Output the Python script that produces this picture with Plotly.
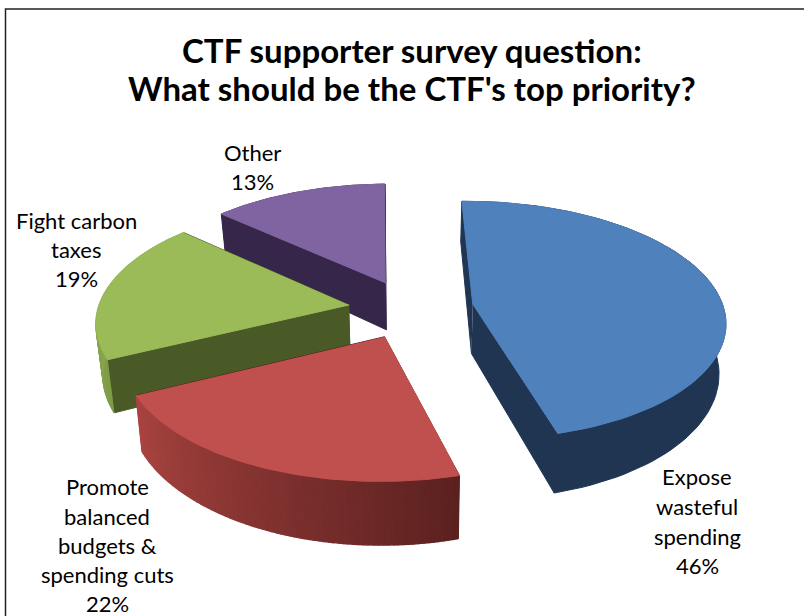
import math
import plotly.graph_objects as go

categories = ["Expose wasteful spending", "Promote balanced budgets & spending cuts", "Fight carbon taxes", "Other"]
values = [46, 22, 19, 13]
label_lines = [["Expose", "wasteful", "spending"],
               ["Promote", "balanced", "budgets &", "spending cuts"],
               ["Fight carbon", "taxes"],
               ["Other"]]
title_lines = ["CTF supporter survey question:", "What should be the CTF's top priority?"]

# projection of the tilted disc
CX, CY, K, A, P, EXPL, DEPTH, SHRINK = 411, 309, 251, 118, 0.13, 0.25, 49, 0.022
FIRST_ANGLE = math.radians(-1)
tops = ["#4F81BD", "#C0504D", "#9BBB59", "#8064A2"]
cut_faces = ["#1F3552", "#5A211F", "#4A5A27", "#35264A"]
wall_from = ["#1F3552", "#5A211F", "#7F9B48", "#35264A"]   # colour at slice start angle
wall_to = ["#1F3552", "#AB4441", "#9BBB59", "#35264A"]     # colour at slice end angle
label_pos = [(697, [476, 506, 536, 565]), (107, [486, 516, 545, 574, 603]),
             (76, [220, 249, 278]), (252, [152, 181])]


def project(x, y, z=0.0):
    d = 1 + P * y
    return CX + K * x / d * (1 - SHRINK * z), CY - A * y / d + z * DEPTH / d ** 1.5


def mix(c1, c2, f):
    a = [int(c1[i:i + 2], 16) for i in (1, 3, 5)]
    b = [int(c2[i:i + 2], 16) for i in (1, 3, 5)]
    return "rgb(%d,%d,%d)" % tuple(round(p + (q - p) * f) for p, q in zip(a, b))


def poly(fig, pts, color, width=1):
    fig.add_trace(go.Scatter(x=[p[0] for p in pts], y=[p[1] for p in pts], mode="lines", fill="toself",
                             fillcolor=color, line=dict(color=color, width=width), hoverinfo="skip", showlegend=False))


fig = go.Figure()
total = sum(values)
spans, start = [], FIRST_ANGLE
for v in values:
    spans.append((start, start + v / total * 2 * math.pi))
    start = spans[-1][1]

for i in [3, 2, 0, 1]:
    a0, a1 = spans[i]
    mid = (a0 + a1) / 2
    ox, oy = EXPL * math.sin(mid), EXPL * math.cos(mid)
    n = 80
    angles = [a0 + (a1 - a0) * j / n for j in range(n + 1)]
    rim = [(ox + math.sin(t), oy + math.cos(t)) for t in angles]
    # cut faces
    for edge in (rim[0], rim[-1]):
        poly(fig, [project(ox, oy), project(*edge), project(*edge, 1), project(ox, oy, 1)], cut_faces[i])
    # outer wall
    if wall_from[i] == wall_to[i]:
        poly(fig, [project(*p) for p in rim] + [project(*p, 1) for p in reversed(rim)], wall_from[i])
    else:
        for j in range(n):
            col = mix(wall_from[i], wall_to[i], (j + 0.5) / n)
            poly(fig, [project(*rim[j]), project(*rim[j + 1]), project(*rim[j + 1], 1), project(*rim[j], 1)], col, 1.5)
    # top
    poly(fig, [project(ox, oy)] + [project(*p) for p in rim], tops[i])

annotations = []
for i, (lx, ys) in enumerate(label_pos):
    lines = label_lines[i] + [f"{values[i]}%"]
    for t, y in zip(lines, ys):
        annotations.append(dict(x=lx, y=y, text=t, showarrow=False, xref="x", yref="y", xanchor="center",
                                yanchor="middle", font=dict(family="Lato", size=22, color="#000000")))
for t, y in zip(title_lines, [50, 88]):
    annotations.append(dict(x=412, y=y, text=f"<b>{t}</b>", showarrow=False, xref="x", yref="y", xanchor="center",
                            yanchor="middle", font=dict(family="Lato", size=33, color="#000000")))

fig.update_layout(width=804, height=616, margin=dict(l=0, r=0, t=0, b=0), paper_bgcolor="white", plot_bgcolor="white",
                  xaxis=dict(range=[0, 804], visible=False, fixedrange=True),
                  yaxis=dict(range=[616, 0], visible=False, fixedrange=True),
                  annotations=annotations, showlegend=False,
                  shapes=[dict(type="rect", xref="x", yref="y", x0=5.5, y0=9, x1=830, y1=640,
                               line=dict(color="#222222", width=1.5))])
fig.write_html("out.html", config=dict(displayModeBar=False),
               post_script="document.body.style.margin='0';document.body.style.overflow='hidden';")
